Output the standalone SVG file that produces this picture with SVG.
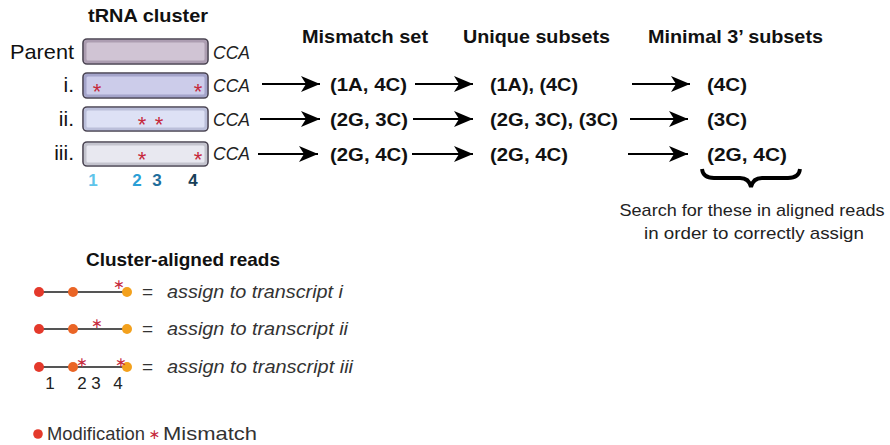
<svg xmlns="http://www.w3.org/2000/svg" width="890" height="445" viewBox="0 0 890 445">
<defs>
<style>
text{font-family:"Liberation Sans",Arial,sans-serif;fill:#111}
.h{font-weight:bold;font-size:19px}
.r{font-weight:bold;font-size:19px}
.lab{font-size:21px}
.cca{font-size:19px;font-style:italic;fill:#222}
.star{font-size:22px;fill:#c62a3c;text-anchor:middle}
.star2{font-family:"DejaVu Sans",sans-serif;font-size:14px;fill:#c62a3c;text-anchor:middle}
.num{font-weight:bold;font-size:17px;text-anchor:middle}
.as{font-size:19px;font-style:italic;fill:#333}
.eq{font-size:19px;fill:#333}
.sm{font-size:17px;fill:#222}
.pos{font-size:17px;fill:#222;text-anchor:middle}
.box{stroke:#4a4452;stroke-width:1.6}
.inner{fill:none;stroke-width:3;stroke-opacity:0.35}
.arr{stroke:#000;stroke-width:2.2;fill:none;marker-end:url(#ah)}
.rl{stroke:#555;stroke-width:1.8}
</style>
<marker id="ah" markerUnits="userSpaceOnUse" markerWidth="20" markerHeight="16" refX="19" refY="8" orient="auto">
<path d="M0,0 L19,8 L0,16 L5,8 Z" fill="#000"/>
</marker>
</defs>

<g id="title-cluster"><text class="h" x="88" y="22" textLength="120" lengthAdjust="spacingAndGlyphs">tRNA cluster</text></g>
<g id="header-mismatch"><text class="h" x="302" y="43" textLength="126" lengthAdjust="spacingAndGlyphs">Mismatch set</text></g>
<g id="header-unique"><text class="h" x="463" y="43" textLength="147" lengthAdjust="spacingAndGlyphs">Unique subsets</text></g>
<g id="header-minimal"><text class="h" x="648" y="43" textLength="175" lengthAdjust="spacingAndGlyphs">Minimal 3’ subsets</text></g>

<g id="row-parent">
<text class="lab" x="10" y="59" textLength="64" lengthAdjust="spacingAndGlyphs">Parent</text>
<rect class="box" x="83" y="39" width="125" height="25" rx="4" fill="#d0c4d4"/>
<rect class="inner" x="85" y="41" width="121" height="21" rx="3" stroke="#6a5570"/>
<text class="cca" x="213" y="59" textLength="37" lengthAdjust="spacingAndGlyphs">CCA</text>
</g>
<g id="row-i">
<text class="lab" x="74" y="92" text-anchor="end">i.</text>
<rect class="box" x="83" y="73" width="125" height="25" rx="4" fill="#ccccea"/>
<rect class="inner" x="85" y="75" width="121" height="21" rx="3" stroke="#5a5890"/>
<text class="star" x="97" y="99">*</text>
<text class="star" x="198" y="99">*</text>
<text class="cca" x="213" y="92" textLength="37" lengthAdjust="spacingAndGlyphs">CCA</text>
</g>
<g id="row-ii">
<text class="lab" x="74" y="126" text-anchor="end">ii.</text>
<rect class="box" x="83" y="107" width="125" height="24" rx="4" fill="#dde1f5"/>
<rect class="inner" x="85" y="109" width="121" height="20" rx="3" stroke="#7a80a8"/>
<text class="star" x="142" y="132">*</text>
<text class="star" x="159" y="132">*</text>
<text class="cca" x="213" y="126" textLength="37" lengthAdjust="spacingAndGlyphs">CCA</text>
</g>
<g id="row-iii">
<text class="lab" x="74" y="160" text-anchor="end">iii.</text>
<rect class="box" x="83" y="142" width="125" height="24" rx="4" fill="#e8e8f0"/>
<rect class="inner" x="85" y="144" width="121" height="20" rx="3" stroke="#808090"/>
<text class="star" x="142" y="167">*</text>
<text class="star" x="198" y="167">*</text>
<text class="cca" x="213" y="160" textLength="37" lengthAdjust="spacingAndGlyphs">CCA</text>
</g>
<g id="positions">
<text class="num" x="93" y="186" style="fill:#5ec4ea">1</text>
<text class="num" x="137" y="186" style="fill:#2a9fd6">2</text>
<text class="num" x="157" y="186" style="fill:#1f6e9c">3</text>
<text class="num" x="193" y="186" style="fill:#173f58">4</text>
</g>

<g id="connectors">
<line class="arr" x1="262" y1="84" x2="320" y2="84"/>
<line class="arr" x1="415" y1="84" x2="473" y2="84"/>
<line class="arr" x1="632" y1="84" x2="690" y2="84"/>
<line class="arr" x1="260" y1="119" x2="320" y2="119"/>
<line class="arr" x1="413" y1="119" x2="473" y2="119"/>
<line class="arr" x1="630" y1="119" x2="688" y2="119"/>
<line class="arr" x1="258" y1="154" x2="318" y2="154"/>
<line class="arr" x1="412" y1="154" x2="473" y2="154"/>
<line class="arr" x1="628" y1="154" x2="688" y2="154"/>
</g>

<g id="mismatch-i"><text class="r" x="330" y="91" textLength="77" lengthAdjust="spacingAndGlyphs">(1A, 4C)</text></g>
<g id="mismatch-ii"><text class="r" x="330" y="126" textLength="78" lengthAdjust="spacingAndGlyphs">(2G, 3C)</text></g>
<g id="mismatch-iii"><text class="r" x="330" y="161" textLength="78" lengthAdjust="spacingAndGlyphs">(2G, 4C)</text></g>
<g id="unique-i"><text class="r" x="490" y="91" textLength="88" lengthAdjust="spacingAndGlyphs">(1A), (4C)</text></g>
<g id="unique-ii"><text class="r" x="490" y="126" textLength="128" lengthAdjust="spacingAndGlyphs">(2G, 3C), (3C)</text></g>
<g id="unique-iii"><text class="r" x="490" y="161" textLength="78" lengthAdjust="spacingAndGlyphs">(2G, 4C)</text></g>
<g id="minimal-i"><text class="r" x="707" y="91" textLength="40" lengthAdjust="spacingAndGlyphs">(4C)</text></g>
<g id="minimal-ii"><text class="r" x="707" y="126" textLength="40" lengthAdjust="spacingAndGlyphs">(3C)</text></g>
<g id="minimal-iii"><text class="r" x="707" y="161" textLength="80" lengthAdjust="spacingAndGlyphs">(2G, 4C)</text></g>

<g id="brace">
<path d="M702,169 Q703,178 714,178 L740,178 Q749,178 751,187 Q753,178 762,178 L788,178 Q799,178 800,169" fill="none" stroke="#000" stroke-width="3.8"/>
</g>
<g id="search-note">
<text class="sm" x="752" y="216" text-anchor="middle" textLength="265" lengthAdjust="spacingAndGlyphs">Search for these in aligned reads</text>
<text class="sm" x="754" y="239" text-anchor="middle" textLength="220" lengthAdjust="spacingAndGlyphs">in order to correctly assign</text>
</g>

<g id="title-reads"><text class="h" x="86" y="266" textLength="194" lengthAdjust="spacingAndGlyphs">Cluster-aligned reads</text></g>

<g id="read-i">
<line class="rl" x1="39" y1="292" x2="127" y2="292"/>
<circle cx="39" cy="292" r="5" fill="#e4392b"/>
<circle cx="73" cy="292" r="5" fill="#ea6526"/>
<circle cx="127" cy="292" r="5" fill="#f3a11d"/>
<text class="star2" x="119" y="288.6">∗</text>
<text class="eq" x="142" y="298">=</text>
<text class="as" x="167" y="298" textLength="176" lengthAdjust="spacingAndGlyphs">assign to transcript i</text>
</g>
<g id="read-ii">
<line class="rl" x1="39" y1="329" x2="127" y2="329"/>
<circle cx="39" cy="329" r="5" fill="#e4392b"/>
<circle cx="73" cy="329" r="5" fill="#ea6526"/>
<circle cx="127" cy="329" r="5" fill="#f3a11d"/>
<text class="star2" x="97" y="327.6">∗</text>
<text class="eq" x="142" y="335">=</text>
<text class="as" x="167" y="335" textLength="181" lengthAdjust="spacingAndGlyphs">assign to transcript ii</text>
</g>
<g id="read-iii">
<line class="rl" x1="39" y1="367" x2="127" y2="367"/>
<circle cx="39" cy="367" r="5" fill="#e4392b"/>
<circle cx="73" cy="367" r="5" fill="#ea6526"/>
<circle cx="127" cy="367" r="5" fill="#f3a11d"/>
<text class="star2" x="82" y="366.6">∗</text>
<text class="star2" x="121" y="366.6">∗</text>
<text class="eq" x="142" y="373">=</text>
<text class="as" x="167" y="373" textLength="186" lengthAdjust="spacingAndGlyphs">assign to transcript iii</text>
<text class="pos" x="50" y="389">1</text>
<text class="pos" x="82" y="389">2</text>
<text class="pos" x="96" y="389">3</text>
<text class="pos" x="118" y="389">4</text>
</g>

<g id="legend">
<circle cx="38" cy="434" r="4.8" fill="#e4392b"/>
<text class="eq" x="47" y="440" textLength="98" lengthAdjust="spacingAndGlyphs">Modification</text>
<text class="star2" x="154.5" y="439">∗</text>
<text class="eq" x="163" y="440" textLength="94" lengthAdjust="spacingAndGlyphs">Mismatch</text>
</g>
</svg>
